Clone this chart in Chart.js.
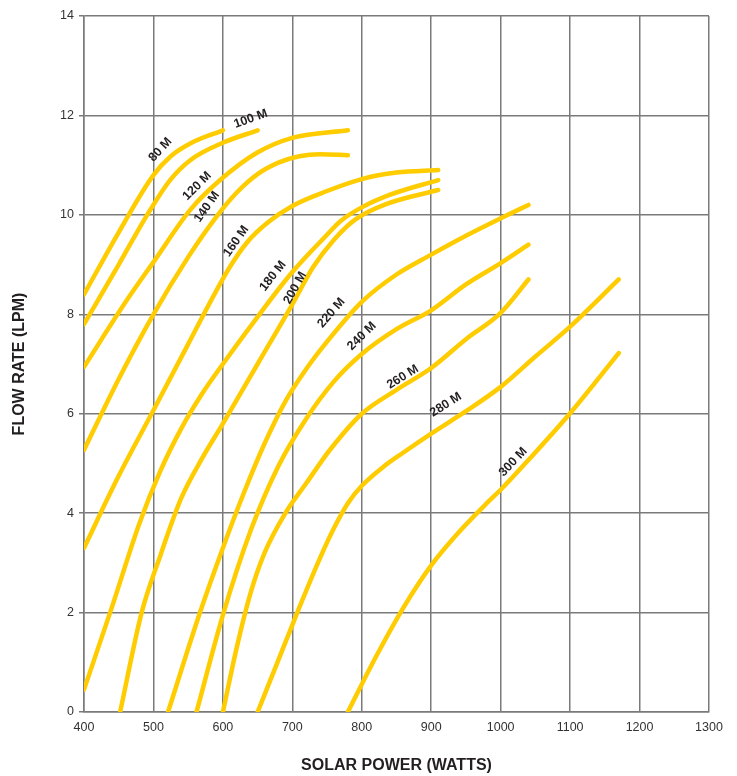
<!DOCTYPE html>
<html>
<head>
<meta charset="utf-8">
<script src="https://cdn.jsdelivr.net/npm/chart.js@4.4.1/dist/chart.umd.min.js"></script>
<style>
  html, body { margin: 0; padding: 0; background: #fff; }
  #wrap { width: 737px; height: 776px; }
</style>
</head>
<body>
<div id="wrap"><canvas id="pumpenkurven" width="737" height="776"></canvas></div>
<script>
// Kurven je Förderhöhe: [Solarleistung W, Förderstrom LPM]
const head80 = [[400, 8.4], [450, 9.65], [500, 10.8], [525, 11.18], [555, 11.45], [600, 11.7]];
const head100 = [[400, 7.8], [450, 9.0], [491, 10.0], [524, 10.7], [553, 11.1], [600, 11.45], [650, 11.7]];
const head120 = [[400, 6.94], [462, 8.29], [500, 9.05], [553, 10.1], [596, 10.7], [649, 11.25], [700, 11.55], [780, 11.7]];
const head140 = [[400, 5.27], [450, 6.7], [500, 8.0], [550, 9.15], [590, 9.95], [620, 10.45], [650, 10.82], [680, 11.05], [710, 11.18], [740, 11.22], [780, 11.2]];
const head160 = [[400, 3.3], [450, 4.75], [500, 6.07], [550, 7.4], [580, 8.2], [610, 8.95], [635, 9.45], [665, 9.85], [700, 10.18], [750, 10.48], [800, 10.72], [850, 10.85], [910, 10.9]];
const head180 = [[400, 0.45], [440, 2.1], [480, 3.8], [510, 4.85], [540, 5.7], [570, 6.4], [600, 7.0], [650, 7.95], [700, 8.85], [750, 9.6], [770, 9.88], [800, 10.15], [840, 10.4], [910, 10.7]];
const head200 = [[452, 0], [483, 2.0], [510, 3.15], [540, 4.3], [570, 5.1], [600, 5.8], [650, 7.0], [700, 8.2], [730, 8.95], [760, 9.5], [790, 9.9], [836, 10.22], [910, 10.5]];
const head220 = [[521, 0], [567, 2.0], [600, 3.3], [630, 4.4], [660, 5.4], [690, 6.25], [720, 6.9], [750, 7.45], [800, 8.25], [850, 8.8], [900, 9.2], [950, 9.58], [1000, 9.93], [1040, 10.2]];
const head240 = [[562, 0], [600, 1.95], [640, 3.65], [680, 4.95], [720, 5.9], [760, 6.65], [800, 7.2], [850, 7.7], [900, 8.08], [950, 8.6], [1000, 9.03], [1040, 9.4]];
const head260 = [[600, 0], [620, 1.3], [640, 2.4], [660, 3.2], [690, 4.0], [720, 4.6], [754, 5.27], [800, 6.0], [850, 6.48], [900, 6.92], [950, 7.5], [1000, 8.03], [1040, 8.7]];
const head280 = [[650, 0], [680, 1.05], [710, 2.1], [740, 3.1], [760, 3.7], [780, 4.2], [800, 4.55], [830, 4.92], [860, 5.22], [900, 5.6], [950, 6.05], [1000, 6.54], [1050, 7.15], [1100, 7.75], [1170, 8.7]];
const head300 = [[780, 0], [820, 1.1], [860, 2.1], [900, 2.95], [940, 3.62], [980, 4.2], [1000, 4.47], [1042, 5.1], [1100, 6.01], [1170, 7.22]];

const kurven = [head80, head100, head120, head140, head160, head180, head200, head220, head240, head260, head280, head300];
const kurvenNamen = ["80 M", "100 M", "120 M", "140 M", "160 M", "180 M", "200 M", "220 M", "240 M", "260 M", "280 M", "300 M"];
// wo die Beschriftung sitzt (Watt, LPM)
const labelX = [510, 640, 563, 577, 619, 672, 704, 756, 800, 859, 921, 1018];
const labelY = [11.31, 11.93, 10.58, 10.16, 9.47, 8.77, 8.53, 8.03, 7.56, 6.74, 6.18, 5.03];

const xTicks = [400, 500, 600, 700, 800, 900, 1000, 1100, 1200, 1300];
const yTicks = [0, 2, 4, 6, 8, 10, 12, 14];

const gelb = "#ffcc00";
const gitter = "#7a7a7a";

const kurvenLabels = {
    id: "kurvenLabels",
    afterDatasetsDraw(chart) {
        const ctx = chart.ctx;
        const xs = chart.scales.x;
        const ys = chart.scales.y;
        ctx.save();
        ctx.font = "bold 12.5px 'Liberation Sans', Arial, sans-serif";
        ctx.fillStyle = "#231f20";
        ctx.textAlign = "center";
        ctx.textBaseline = "middle";
        kurvenNamen.forEach((name, i) => {
            const px = xs.getPixelForValue(labelX[i]);
            const py = ys.getPixelForValue(labelY[i]);
            const pts = chart.getDatasetMeta(i).data;
            let k = pts.length - 2;
            for (let j = 0; j < pts.length - 1; j++) {
                if (px <= pts[j + 1].x) { k = j; break; }
            }
            const winkel = Math.atan2(pts[k + 1].y - pts[k].y, pts[k + 1].x - pts[k].x);
            ctx.translate(px, py);
            ctx.rotate(winkel);
            ctx.fillText(name, 0, 0);
            ctx.setTransform(1, 0, 0, 1, 0, 0);
        });
        ctx.restore();
    },
};

const datasets = kurven.map((punkte, i) => ({
    label: kurvenNamen[i],
    data: punkte.map((p) => ({ x: p[0], y: p[1] })),
    borderColor: gelb,
    borderWidth: 4.5,
    borderCapStyle: "round",
    borderJoinStyle: "round",
    pointRadius: 0,
    fill: false,
    cubicInterpolationMode: "monotone",
}));

new Chart(document.getElementById("pumpenkurven"), {
    type: "line",
    data: { datasets: datasets },
    plugins: [kurvenLabels],
    options: {
        responsive: false,
        animation: false,
        layout: { padding: { top: 16, right: 28, left: 0, bottom: 0 } },
        plugins: { legend: { display: false }, tooltip: { enabled: false } },
        scales: {
            x: {
                type: "linear",
                min: 400,
                max: 1300,
                afterBuildTicks: (scale) => { scale.ticks = xTicks.map((v) => ({ value: v })); },
                afterFit: (scale) => { scale.height = 64; },
                grid: { color: gitter, lineWidth: 1.5, drawTicks: false },
                border: { color: gitter, width: 1.5 },
                ticks: {
                    padding: 8,
                    color: "#333",
                    callback: (v) => String(v),
                    font: { family: "'Liberation Sans', Arial, sans-serif", size: 12.5 },
                },
                title: {
                    display: true,
                    text: "SOLAR POWER (WATTS)",
                    color: "#231f20",
                    padding: { top: 0, bottom: 1 },
                    font: { family: "'Liberation Sans', Arial, sans-serif", size: 16, weight: "bold" },
                },
            },
            y: {
                min: 0,
                max: 14,
                afterBuildTicks: (scale) => { scale.ticks = yTicks.map((v) => ({ value: v })); },
                afterFit: (scale) => { scale.width = 84; },
                grid: { color: gitter, lineWidth: 1.5, tickLength: 5 },
                border: { color: gitter, width: 1.5 },
                ticks: {
                    padding: 5,
                    color: "#333",
                    font: { family: "'Liberation Sans', Arial, sans-serif", size: 12.5 },
                },
                title: {
                    display: true,
                    text: "FLOW RATE (LPM)",
                    color: "#231f20",
                    padding: { top: 10, bottom: 0 },
                    font: { family: "'Liberation Sans', Arial, sans-serif", size: 16, weight: "bold" },
                },
            },
        },
    },
});
</script>
</body>
</html>
